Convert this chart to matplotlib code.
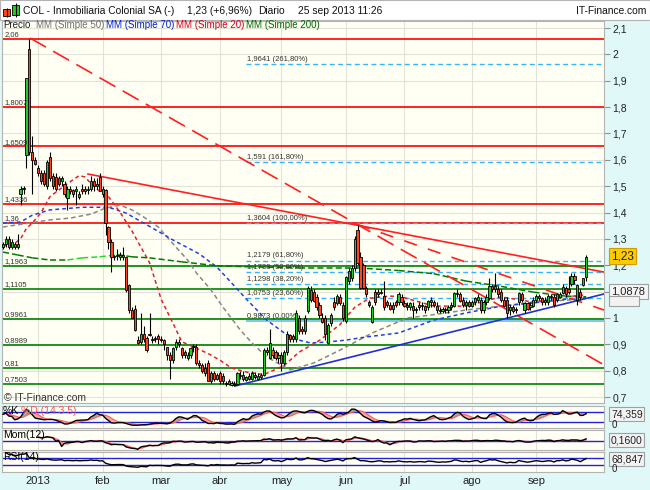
import numpy as np
import pandas as pd
import matplotlib
matplotlib.use('Agg')
import matplotlib.pyplot as plt
from matplotlib.patches import Rectangle
from matplotlib.ticker import FuncFormatter

plt.rcParams['font.family'] = ['Liberation Sans', 'DejaVu Sans']

W, H = 650, 490

# ==================== datos ====================
# indice de sesion donde empieza cada mes
month_pos = [12, 34, 54, 74, 95, 117, 137, 160, 182]
month_lbl = ['2013', 'feb', 'mar', 'abr', 'may', 'jun', 'jul', 'ago', 'sep']

# velas diarias (dic 2012 - 25 sep 2013)
opens = [
    1.27, 1.28, 1.30, 1.27, 1.28, 1.27, 1.47, 1.49, 1.62, 2.02, 1.63, 1.60,  # dic
    1.57, 1.55, 1.55, 1.50, 1.61, 1.54, 1.535, 1.53, 1.52, 1.51, 1.455, 1.49, 1.485, 1.48, 1.46, 1.49, 1.48, 1.485, 1.49, 1.52, 1.50, 1.535,  # ene
    1.47, 1.485, 1.345, 1.29, 1.23, 1.235, 1.23, 1.24, 1.23, 1.125, 1.03, 1.035, 0.915, 0.91, 0.94, 0.925, 0.935, 0.92, 0.925, 0.93,  # feb
    0.92, 0.915, 0.89, 0.86, 0.84, 0.89, 0.90, 0.885, 0.87, 0.85, 0.86, 0.89, 0.89, 0.83, 0.82, 0.81, 0.83, 0.76, 0.79, 0.77,  # mar
    0.79, 0.78, 0.75, 0.76, 0.745, 0.75, 0.75, 0.78, 0.785, 0.765, 0.78, 0.77, 0.785, 0.77, 0.775, 0.785, 0.88, 0.85, 0.88, 0.87, 0.85,  # abr
    0.86, 0.83, 0.87, 0.935, 0.92, 0.92, 1.00, 0.96, 0.95, 1.025, 1.105, 1.10, 1.08, 1.05, 1.00, 1.00, 0.905, 0.98, 1.06, 1.055, 1.08, 1.05,  # may
    0.99, 1.14, 1.15, 1.19, 1.335, 1.23, 1.20, 1.115, 1.06, 0.985, 1.10, 1.09, 1.10, 1.085, 1.06, 1.05, 1.035, 1.06, 1.06, 1.08,  # jun
    1.055, 1.05, 1.04, 1.045, 1.03, 1.04, 1.05, 1.045, 1.04, 1.07, 1.06, 1.045, 1.03, 1.025, 1.035, 1.03, 1.04, 1.045, 1.095, 1.09, 1.07, 1.05, 1.06,  # jul
    1.045, 1.06, 1.07, 1.07, 1.03, 1.06, 1.075, 1.12, 1.11, 1.11, 1.10, 1.07, 1.07, 1.03, 1.04, 1.035, 1.06, 1.09, 1.03, 1.055, 1.04, 1.045,  # ago
    1.07, 1.085, 1.075, 1.06, 1.06, 1.085, 1.08, 1.07, 1.08, 1.095, 1.115, 1.11, 1.13, 1.16, 1.07, 1.10, 1.125, 1.155,  # sep
]
highs = [
    1.29, 1.31, 1.31, 1.30, 1.29, 1.32, 1.50, 1.50, 1.91, 2.06, 1.69, 1.61,
    1.58, 1.56, 1.56, 1.60, 1.63, 1.55, 1.55, 1.54, 1.54, 1.52, 1.50, 1.50, 1.49, 1.50, 1.48, 1.51, 1.50, 1.50, 1.54, 1.53, 1.53, 1.55,
    1.50, 1.49, 1.35, 1.30, 1.24, 1.26, 1.25, 1.27, 1.23, 1.13, 1.04, 1.05, 0.93, 1.02, 0.97, 0.93, 1.02, 0.93, 0.93, 0.94,
    0.93, 0.92, 0.89, 0.87, 0.89, 0.92, 0.92, 0.89, 0.88, 0.87, 0.89, 0.90, 0.90, 0.84, 0.83, 0.83, 0.84, 0.80, 0.80, 0.79,
    0.80, 0.79, 0.76, 0.77, 0.76, 0.76, 0.795, 0.80, 0.80, 0.78, 0.79, 0.80, 0.795, 0.79, 0.79, 0.885, 0.89, 0.96, 0.89, 0.88, 0.87,
    0.87, 0.88, 0.95, 0.94, 0.94, 1.03, 1.01, 0.97, 1.01, 1.12, 1.12, 1.11, 1.09, 1.06, 1.02, 1.01, 0.98, 1.02, 1.08, 1.09, 1.09, 1.06,
    1.16, 1.19, 1.20, 1.31, 1.353, 1.25, 1.21, 1.12, 1.07, 1.05, 1.11, 1.11, 1.11, 1.14, 1.07, 1.06, 1.06, 1.07, 1.10, 1.09,
    1.07, 1.06, 1.06, 1.06, 1.04, 1.06, 1.06, 1.05, 1.07, 1.08, 1.07, 1.06, 1.04, 1.04, 1.04, 1.05, 1.06, 1.10, 1.11, 1.10, 1.08, 1.07, 1.07,
    1.07, 1.08, 1.09, 1.08, 1.07, 1.09, 1.15, 1.13, 1.17, 1.12, 1.11, 1.08, 1.08, 1.05, 1.05, 1.04, 1.10, 1.10, 1.06, 1.06, 1.06, 1.08,
    1.09, 1.09, 1.08, 1.08, 1.09, 1.09, 1.09, 1.095, 1.10, 1.13, 1.12, 1.16, 1.17, 1.17, 1.13, 1.11, 1.15, 1.24,
]
lows = [
    1.26, 1.27, 1.26, 1.26, 1.26, 1.26, 1.43, 1.47, 1.57, 1.62, 1.47, 1.58,
    1.54, 1.51, 1.50, 1.49, 1.52, 1.49, 1.48, 1.50, 1.50, 1.46, 1.41, 1.47, 1.46, 1.43, 1.45, 1.47, 1.47, 1.47, 1.48, 1.48, 1.49, 1.48,
    1.46, 1.315, 1.26, 1.175, 1.22, 1.22, 1.22, 1.22, 1.10, 1.02, 1.00, 0.95, 0.90, 0.90, 0.91, 0.87, 0.93, 0.905, 0.91, 0.90,
    0.91, 0.88, 0.84, 0.77, 0.83, 0.88, 0.89, 0.85, 0.85, 0.84, 0.85, 0.87, 0.82, 0.81, 0.79, 0.78, 0.76, 0.755, 0.76, 0.765,
    0.75, 0.75, 0.74, 0.745, 0.74, 0.74, 0.745, 0.77, 0.76, 0.76, 0.765, 0.765, 0.77, 0.765, 0.77, 0.78, 0.86, 0.845, 0.85, 0.84, 0.83,
    0.80, 0.82, 0.86, 0.91, 0.91, 0.91, 0.94, 0.94, 0.94, 1.02, 1.06, 1.06, 1.03, 1.00, 0.98, 0.915, 0.90, 0.97, 1.03, 1.05, 1.05, 0.99,
    0.98, 1.13, 1.14, 1.18, 1.20, 1.11, 1.11, 1.08, 1.04, 0.98, 1.05, 1.08, 1.09, 1.03, 1.04, 1.03, 1.02, 1.04, 1.05, 1.05,
    1.04, 1.03, 1.03, 1.00, 1.02, 1.03, 1.03, 1.02, 1.03, 1.04, 1.04, 1.02, 1.02, 1.02, 1.02, 1.02, 1.03, 1.04, 1.08, 1.06, 1.04, 1.03, 1.04,
    1.04, 1.05, 1.06, 1.02, 1.02, 1.05, 1.07, 1.10, 1.10, 1.08, 1.06, 1.04, 1.00, 1.01, 1.02, 1.02, 1.05, 1.06, 1.02, 1.03, 1.03, 1.04,
    1.06, 1.07, 1.05, 1.05, 1.05, 1.07, 1.04, 1.06, 1.075, 1.09, 1.08, 1.09, 1.12, 1.13, 1.05, 1.07, 1.12, 1.14,
]
closes = [
    1.28, 1.30, 1.27, 1.29, 1.27, 1.28, 1.49, 1.49, 1.91, 1.63, 1.60, 1.585,
    1.55, 1.52, 1.51, 1.59, 1.53, 1.50, 1.49, 1.51, 1.53, 1.47, 1.49, 1.48, 1.47, 1.49, 1.47, 1.48, 1.49, 1.49, 1.52, 1.50, 1.51, 1.48,
    1.49, 1.36, 1.29, 1.23, 1.235, 1.24, 1.24, 1.23, 1.105, 1.03, 1.00, 0.955, 0.905, 0.94, 0.92, 0.88, 0.94, 0.915, 0.92, 0.92,
    0.915, 0.90, 0.86, 0.84, 0.885, 0.91, 0.91, 0.86, 0.86, 0.86, 0.885, 0.89, 0.83, 0.82, 0.80, 0.79, 0.76, 0.79, 0.77, 0.785,
    0.76, 0.76, 0.755, 0.75, 0.755, 0.745, 0.79, 0.78, 0.77, 0.775, 0.77, 0.79, 0.775, 0.78, 0.785, 0.88, 0.87, 0.905, 0.86, 0.85, 0.86,
    0.83, 0.87, 0.94, 0.92, 0.93, 1.02, 0.95, 0.95, 1.00, 1.115, 1.07, 1.065, 1.04, 1.01, 0.985, 0.94, 0.975, 1.01, 1.04, 1.085, 1.055, 1.00,
    1.155, 1.18, 1.19, 1.30, 1.21, 1.115, 1.115, 1.09, 1.05, 1.04, 1.06, 1.10, 1.095, 1.04, 1.05, 1.035, 1.05, 1.05, 1.09, 1.06,
    1.045, 1.04, 1.055, 1.03, 1.035, 1.05, 1.045, 1.03, 1.065, 1.06, 1.05, 1.03, 1.025, 1.035, 1.03, 1.04, 1.05, 1.095, 1.09, 1.065, 1.05, 1.06, 1.045,
    1.06, 1.075, 1.08, 1.03, 1.06, 1.08, 1.12, 1.11, 1.12, 1.09, 1.07, 1.045, 1.02, 1.04, 1.025, 1.03, 1.095, 1.07, 1.055, 1.035, 1.05, 1.07,
    1.085, 1.075, 1.06, 1.07, 1.085, 1.08, 1.05, 1.09, 1.09, 1.118, 1.09, 1.10, 1.16, 1.145, 1.125, 1.08, 1.15, 1.23,
]

# medias moviles (sesion, valor)
mm20_idx = [0, 3, 6, 8, 10, 13, 16, 22, 26, 28, 30, 33, 36, 40, 44, 47, 50, 52, 54, 58, 61, 66, 70, 74, 78, 83, 89,
            96, 101, 108, 115, 120, 125, 132, 136, 147, 158, 170, 181, 192, 199]
mm20_val = [1.275, 1.275, 1.30, 1.34, 1.36, 1.40, 1.46, 1.51, 1.54, 1.535, 1.51, 1.48, 1.46, 1.40, 1.33, 1.27, 1.21,
            1.14, 1.07, 0.98, 0.91, 0.885, 0.865, 0.84, 0.81, 0.795, 0.785, 0.82, 0.87, 0.915, 0.975, 1.04, 1.075,
            1.083, 1.08, 1.045, 1.045, 1.08, 1.06, 1.08, 1.0878]
mm50_idx = [0, 16, 23, 30, 35, 40, 44, 48, 53, 56, 59, 63, 66, 71, 75, 81, 85, 90, 98, 106, 115, 126, 138, 146,
            158, 170, 181, 196, 199]
mm50_val = [1.345, 1.372, 1.379, 1.394, 1.417, 1.428, 1.41, 1.383, 1.345, 1.307, 1.269, 1.22, 1.171, 1.106, 1.042,
            0.954, 0.905, 0.852, 0.803, 0.829, 0.878, 0.943, 1.0, 1.011, 1.03, 1.045, 1.06, 1.07, 1.075]
mm70_idx = [0, 6, 10, 16, 27, 36, 42, 48, 54, 58, 67, 73, 78, 83, 90, 96, 101, 105, 111, 117, 124, 135, 147, 158,
            170, 181, 196, 199]
mm70_val = [1.36, 1.364, 1.39, 1.41, 1.42, 1.42, 1.398, 1.36, 1.322, 1.296, 1.243, 1.193, 1.133, 1.072, 0.992,
            0.943, 0.916, 0.905, 0.909, 0.916, 0.928, 0.943, 0.992, 1.019, 1.045, 1.057, 1.076, 1.08]
mm200_idx = [0, 5, 10, 16, 22, 27, 33, 39, 44, 50, 61, 73, 84, 101, 121, 135, 147, 158, 170, 181, 192, 199]
mm200_val = [1.25, 1.239, 1.228, 1.22, 1.22, 1.228, 1.232, 1.24, 1.232, 1.228, 1.213, 1.198, 1.194, 1.19, 1.19,
             1.18, 1.168, 1.14, 1.12, 1.098, 1.083, 1.08]

# soportes / resistencias
red_levels = [2.06, 1.8007, 1.6509, 1.4336, 1.36]
green_levels = [1.1963, 1.1105, 0.9961, 0.8989, 0.81, 0.7503]

# retrocesos de Fibonacci
fib_start = 83
fib_pct = [261.8, 161.8, 100.0, 61.8, 50.0, 38.2, 23.6, 0.0]
fib_val = [1.9641, 1.591, 1.3604, 1.2179, 1.1738, 1.1298, 1.0753, 0.9873]

# lineas de tendencia: (sesion0, precio0, sesion1, precio1)
trend_red = (29, 1.546, 205.1, 1.174)
trend_red_dash1 = (9.2, 2.062, 205.1, 0.822)
trend_red_dash2 = (120.8, 1.355, 205.1, 1.03)
trend_blue = (79.2, 0.742, 205.1, 1.091)

last_price = 1.23
ind_values = ['74,359', '0,1600', '68,847']

XMIN, XMAX = -0.34, 205.1
GRID = '#e2e2da'
PANEL_BG = '#fffff4'
EDGE = '#b4b4b4'


def px_axes(fig, x0, y0, x1, y1):
    return fig.add_axes([x0 / W, 1 - y1 / H, (x1 - x0) / W, (y1 - y0) / H])


def fx(x):
    return x / W


def fy(y):
    return 1 - y / H


def coma(v):
    return ('%g' % v).replace('.', ',')


def style_panel(a):
    a.set_facecolor(PANEL_BG)
    a.set_xlim(XMIN, XMAX)
    for s in a.spines.values():
        s.set_color(EDGE)
        s.set_linewidth(0.8)
    a.set_xticks([])
    a.set_yticks([])
    for m in month_pos:
        a.axvline(m, color=GRID, lw=0.8, zorder=0)


def tick_label(v, p):
    v = round(v, 1)
    if v == 1.1:  # queda tapada por la caja de 1,0878
        return ''
    return coma(v)


fig = plt.figure(figsize=(6.5, 4.9), dpi=100, facecolor='#e0f8f8')
fig.add_artist(Rectangle((0, fy(20)), 1, 1 - fy(20), transform=fig.transFigure,
                         fc='white', ec=EDGE, lw=0.8, zorder=0))

# ==================== panel principal ====================
ax = px_axes(fig, 2, 21, 604, 403)
style_panel(ax)
ax.set_ylim(0.6774, 2.1266)
ticks = np.round(np.arange(0.7, 2.101, 0.1), 1)
ax.set_yticks(ticks)
ax.yaxis.set_major_formatter(FuncFormatter(tick_label))
ax.yaxis.tick_right()
ax.tick_params(axis='y', length=4, color='#909090', labelsize=7.5, pad=2, labelcolor='#222222')
for t in ticks:
    ax.axhline(t, color=GRID, lw=0.8, zorder=0)

for v in red_levels:
    ax.axhline(v, color='#ff0000', lw=1.2, zorder=1)
    ax.text(0.004, v + 0.003, coma(v), transform=ax.get_yaxis_transform(), fontsize=5.5,
            color='#333333', va='bottom', ha='left', zorder=6)
for v in green_levels:
    ax.axhline(v, color='#008000', lw=1.2, zorder=1)
    ax.text(0.004, v + 0.003, coma(v), transform=ax.get_yaxis_transform(), fontsize=5.5,
            color='#333333', va='bottom', ha='left', zorder=6)

for v, p in zip(fib_val, fib_pct):
    if p == 0:
        ax.hlines(v, fib_start, XMAX, colors='#5ab8ee', lw=1.1, zorder=1)
    else:
        ax.hlines(v, fib_start, XMAX, colors='#33b4ff', lw=1.0, linestyles=(0, (3.5, 2.5)), zorder=1)
    ax.text(fib_start + 0.4, v + 0.004, '%s (%s%%)' % (coma(v), ('%.2f' % p).replace('.', ',')),
            fontsize=5.5, color='#333333', va='bottom', ha='left', zorder=6)

# medias moviles
ax.plot(mm50_idx, mm50_val, color='#888888', lw=1.1, dashes=(3, 2), zorder=2)
ax.plot(mm70_idx, mm70_val, color='#2040e0', lw=1.1, dashes=(2.5, 2), zorder=2)
ax.plot(mm20_idx, mm20_val, color='#e02030', lw=1.1, dashes=(2.5, 2), zorder=2)
for j in range(len(mm200_idx) - 1):
    col = '#22dd22' if mm200_val[j + 1] > mm200_val[j] else '#007a00'
    ax.plot(mm200_idx[j:j + 2], mm200_val[j:j + 2], color=col, lw=1.1, dashes=(4, 2), zorder=2)

# lineas de tendencia
t = trend_red
ax.plot([t[0], t[2]], [t[1], t[3]], color='#ff2020', lw=1.2, zorder=3)
t = trend_red_dash1
ax.plot([t[0], t[2]], [t[1], t[3]], color='#ff2020', lw=1.2, dashes=(11, 5), zorder=3)
t = trend_red_dash2
ax.plot([t[0], t[2]], [t[1], t[3]], color='#ff2020', lw=1.2, dashes=(8, 7), zorder=3)
t = trend_blue
ax.plot([t[0], t[2]], [t[1], t[3]], color='#2030d0', lw=1.2, zorder=3)

# velas
o = np.array(opens)
h = np.array(highs)
l = np.array(lows)
c = np.array(closes)
idx = np.arange(len(c))
up = c >= o
ax.vlines(idx, l, h, color='black', lw=0.8, zorder=4)
ax.bar(idx, np.maximum(np.abs(c - o), 0.004), bottom=np.minimum(o, c), width=0.75,
       color=np.where(up, '#22cc22', '#ff4422'), edgecolor='black', linewidth=0.6, zorder=5)

# cajas de valores a la derecha (la de MM70 queda casi tapada)
fig.add_artist(Rectangle((fx(609), fy(306)), (639 - 609) / W, 10 / H, transform=fig.transFigure,
                         fc='#f2f2f2', ec='#a0a0a0', lw=0.8, zorder=7))
yt = ax.get_yaxis_transform()
ax.text(1.012, mm20_val[-1] + 0.012, coma(mm20_val[-1]), transform=yt, fontsize=8, color='#222222',
        va='center', ha='left', clip_on=False, zorder=8,
        bbox=dict(boxstyle='square,pad=0.22', fc='#f6f6f6', ec='#a0a0a0', lw=0.8))
ax.text(1.012, last_price + 0.005, coma(last_price), transform=yt, fontsize=8.5, color='#222222',
        va='center', ha='left', clip_on=False, zorder=9,
        bbox=dict(boxstyle='square,pad=0.18', fc='#ffcc00', ec='#d09a00', lw=0.8))

ax.text(0.003, 0.014, '\u00a9 IT-Finance.com', transform=ax.transAxes, fontsize=7.5, color='#333333',
        va='center', ha='left', zorder=6)

# ==================== indicadores ====================
cs = pd.Series(c)
hs = pd.Series(h)
ls = pd.Series(l)

ll = ls.rolling(14, min_periods=1).min()
hh = hs.rolling(14, min_periods=1).max()
raw = 100 * (cs - ll) / (hh - ll)
k = raw.rolling(3, min_periods=1).mean()
d = k.rolling(5, min_periods=1).mean()

mom = cs - cs.shift(12)
mom_sig = mom.rolling(3, min_periods=1).mean()

delta = cs.diff()
gain = delta.clip(lower=0).ewm(alpha=1 / 14, adjust=False).mean()
loss = (-delta.clip(upper=0)).ewm(alpha=1 / 14, adjust=False).mean()
rsi = 100 - 100 / (1 + gain / loss)

# %K %D
ak = px_axes(fig, 2, 406, 604, 428)
style_panel(ak)
ak.set_ylim(-16, 116)
for v in (80, 20):
    ak.axhline(v, color='#2222dd', lw=1.0, zorder=1)
ak.fill_between(idx, k, d, where=(k >= d), interpolate=True, color='#a8a8a8', lw=0, zorder=2)
ak.fill_between(idx, k, d, where=(k < d), interpolate=True, color='#f4a8a8', lw=0, zorder=2)
ak.plot(idx, d, color='#ff6060', lw=0.9, zorder=3)
ak.plot(idx, k, color='black', lw=1.0, zorder=4)

# Mom
am = px_axes(fig, 2, 430, 604, 450)
style_panel(am)
am.set_ylim(-0.63, 0.77)
am.axhline(0, color='#2222dd', lw=1.0, zorder=1)
am.fill_between(idx, mom, mom_sig, where=(mom >= mom_sig), interpolate=True, color='#a8d8a8', lw=0, zorder=2)
am.fill_between(idx, mom, mom_sig, where=(mom < mom_sig), interpolate=True, color='#f0a8a8', lw=0, zorder=2)
am.plot(idx, mom_sig, color='#ff6060', lw=0.9, zorder=3)
am.plot(idx, mom, color='black', lw=1.0, zorder=4)

# RSI
ar = px_axes(fig, 2, 452, 604, 472)
style_panel(ar)
ar.set_ylim(-10, 104)
for v in (70, 30):
    ar.axhline(v, color='#2222dd', lw=1.0, zorder=1)
ar.plot(idx, rsi, color='black', lw=1.0, zorder=4)

# etiquetas de los indicadores
fig.text(fx(3), fy(411), '%K', fontsize=7.5, color='black', va='center', ha='left', zorder=10)
fig.text(fx(21), fy(411), '%D (14 3 5)', fontsize=7.5, color='#ff5050', va='center', ha='left', zorder=10)
fig.text(fx(3), fy(435), 'Mom(12)', fontsize=7.5, color='black', va='center', ha='left', zorder=10)
fig.text(fx(3), fy(457), 'RSI(14)', fontsize=7.5, color='black', va='center', ha='left', zorder=10)

box = dict(boxstyle='square,pad=0.15', fc='#f2f2f2', ec='#a0a0a0', lw=0.8)
fig.text(fx(611), fy(414), ind_values[0], fontsize=7.5, color='#222222', va='center', ha='left', bbox=box)
fig.text(fx(612), fy(425), '0', fontsize=7, color='#222222', va='center', ha='left')
fig.text(fx(611), fy(440), ind_values[1], fontsize=7.5, color='#222222', va='center', ha='left', bbox=box)
fig.text(fx(611), fy(459), ind_values[2], fontsize=7.5, color='#222222', va='center', ha='left', bbox=box)
fig.text(fx(612), fy(469), '0', fontsize=7, color='#222222', va='center', ha='left')

# fechas
for m, lab in zip(month_pos, month_lbl):
    xp = 2 + (m - XMIN) / (XMAX - XMIN) * 602
    fig.text(fx(xp), fy(481), lab, fontsize=8, color='#222222', va='center', ha='center')

# ==================== cabecera ====================
ic = px_axes(fig, 2, 3, 20, 19)
ic.set_xlim(0, 4)
ic.set_ylim(0, 10)
ic.axis('off')
ic.vlines([1, 3], [1, 1.5], [7, 10], color='black', lw=0.8)
ic.bar([1, 3], [4, 6.5], bottom=[2, 2.5], width=1.4, color=['#ff4422', '#22cc22'], edgecolor='black', lw=0.6)

fig.text(fx(23), fy(11), 'COL - Inmobiliaria Colonial SA (-)', fontsize=7.4, color='#111111', va='center')
fig.text(fx(187), fy(11), '1,23 (+6,96%)', fontsize=7.4, color='#111111', va='center')
fig.text(fx(258), fy(11), 'Diario', fontsize=7.4, color='#111111', va='center')
fig.text(fx(298), fy(11), '25 sep 2013 11:26', fontsize=7.4, color='#111111', va='center')
fig.text(fx(646), fy(11), 'IT-Finance.com', fontsize=7.4, color='#111111', va='center', ha='right')

fig.text(fx(3), fy(25), 'Precio', fontsize=7, color='#222222', va='center', zorder=10)
fig.text(fx(36), fy(25), 'MM (Simple 50)', fontsize=7, color='#707070', va='center', zorder=10)
fig.text(fx(106), fy(25), 'MM (Simple 70)', fontsize=7, color='#0020d0', va='center', zorder=10)
fig.text(fx(176), fy(25), 'MM (Simple 20)', fontsize=7, color='#d00020', va='center', zorder=10)
fig.text(fx(246), fy(25), 'MM (Simple 200)', fontsize=7, color='#006a00', va='center', zorder=10)

fig.savefig('out.png', dpi=100, facecolor=fig.get_facecolor())
